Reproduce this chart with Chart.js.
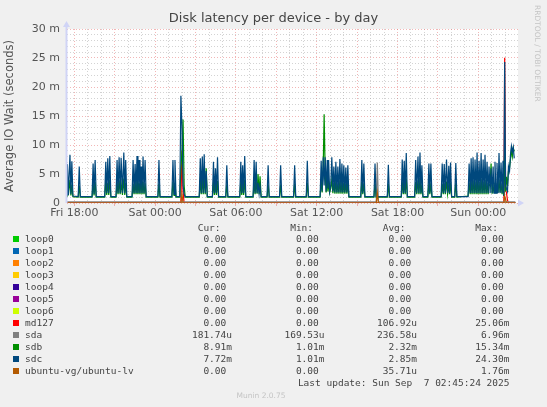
<!DOCTYPE html>
<html>
<head>
<meta charset="utf-8">
<script src="https://cdn.jsdelivr.net/npm/chart.js@4.4.1/dist/chart.umd.min.js"></script>
<style>
    body { margin: 0; background: #f0f0f0; }
    #wrap { position: relative; width: 547px; height: 407px; overflow: hidden; }
    #chart { position: absolute; left: 0; top: 0; }
    .txt { position: absolute; white-space: pre; }
    #title { left: 0; width: 547px; top: 10px; text-align: center; font: 13px "DejaVu Sans"; color: #444; }
    #mark { left: 533px; top: 5px; writing-mode: vertical-rl; font: 7.5px "DejaVu Sans"; color: #c4c4c4; }
    #munin { left: 0; width: 522px; top: 391px; text-align: center; font: 7.5px "DejaVu Sans"; color: #c4c4c4; }
    .leg { position: absolute; font: 9.5px "DejaVu Sans Mono"; color: #444; line-height: 12px; white-space: pre; }
    .sw { position: absolute; width: 6px; height: 6px; }
</style>
</head>
<body>
<div id="wrap">
    <canvas id="chart" width="547" height="407"></canvas>
    <div id="title" class="txt">Disk latency per device - by day</div>
    <div id="mark" class="txt">RRDTOOL / TOBI OETIKER</div>
    <div id="legend"></div>
    <div id="munin" class="txt">Munin 2.0.75</div>
</div>
<script>
// hours after Fri 18:00, values in milliseconds
const sampleHours = [
    -0.55, -0.52, -0.45, -0.33, -0.26, -0.19, -0.11,
    0.28, 0.36, 0.44,
    1.31, 1.39, 1.46, 1.54, 1.62,
    2.25, 2.33, 2.40, 2.48, 2.55, 2.63, 2.71,
    3.09, 3.17, 3.24, 3.32, 3.40, 3.47, 3.57, 3.67, 3.74, 3.81, 3.89,
    4.28, 4.36, 4.43, 4.51, 4.58, 4.65, 4.72, 4.80, 4.87, 4.95, 5.02, 5.10, 5.17, 5.25, 5.33,
    6.20, 6.28, 6.36,
    7.24, 7.32, 7.40, 7.47, 7.55,
    7.83, 7.91, 7.99, 8.07, 8.15, 8.23,
    9.27, 9.35, 9.42, 9.50, 9.57, 9.64, 9.72, 9.79, 9.87,
    10.25, 10.33, 10.40, 10.48, 10.55, 10.63, 10.71,
    11.24, 11.32, 11.40,
    12.28, 12.36, 12.43, 12.50, 12.57, 12.65, 12.73,
    13.27, 13.35, 13.42, 13.50, 13.57, 13.64, 13.72, 13.79, 13.87,
    14.31, 14.39, 14.47,
    15.24, 15.32, 15.40,
    16.28, 16.36, 16.44,
    17.22, 17.30, 17.38,
    18.25, 18.33, 18.40, 18.48, 18.55, 18.63, 18.70, 18.78, 18.83, 18.88, 18.96, 19.04, 19.12, 19.20, 19.27, 19.35, 19.42, 19.50, 19.57, 19.65, 19.72, 19.80, 19.87, 19.94, 20.01, 20.09, 20.16, 20.24, 20.31, 20.39,
    21.27, 21.35, 21.42, 21.50, 21.58,
    22.25, 22.33, 22.41,
    23.24, 23.32, 23.40,
    24.28, 24.35, 24.43, 24.50, 24.57, 24.65, 24.73,
    25.27, 25.35, 25.43, 25.52, 25.59, 25.67, 25.74, 25.81, 25.89,
    26.25, 26.33, 26.40, 26.48, 26.56,
    27.24, 27.32, 27.40, 27.47, 27.55, 27.64, 27.72, 27.81, 27.87, 27.94, 28.02,
    28.25, 28.33, 28.41,
    29.24, 29.32, 29.40, 29.47, 29.54, 29.61, 29.69, 29.76, 29.84, 29.91, 29.98, 30.06, 30.13, 30.21, 30.28, 30.36, 30.43, 30.50, 30.58, 30.65, 30.73, 30.80, 30.88, 30.95, 31.03, 31.10, 31.17, 31.24, 31.32, 31.39, 31.47, 31.54, 31.62, 31.69, 31.77, 31.84, 31.90,
    31.96, 32.03, 32.09, 32.17, 32.24, 32.32, 32.39, 32.46, 32.53, 32.60, 32.67
];
const sdcMs = [
    1.3, 6.7, 1.4, 8.3, 1.5, 7.2, 1.2,
    1.1, 6.3, 1.1,
    1.1, 6.8, 1.5, 7.4, 1.1,
    1.1, 7.1, 1.7, 7.7, 1.7, 8.1, 1.1,
    1.1, 7.4, 1.7, 7.9, 1.7, 7.8, 1.7, 8.7, 1.7, 7.4, 1.1,
    1.1, 7.4, 1.7, 6.7, 1.7, 8.1, 1.7, 7.4, 1.7, 6.3, 1.7, 8.0, 1.7, 7.4, 1.1,
    1.1, 7.4, 1.1,
    1.1, 7.4, 1.5, 7.4, 1.1,
    1.1, 18.5, 13.0, 3.0, 1.5, 1.1,
    1.1, 7.7, 1.7, 8.0, 1.7, 8.4, 1.7, 5.5, 1.1,
    1.1, 7.1, 1.7, 6.0, 1.7, 7.9, 1.1,
    1.1, 6.5, 1.1,
    1.1, 7.1, 1.7, 6.5, 1.7, 8.1, 1.1,
    1.1, 7.4, 1.7, 7.1, 1.7, 3.5, 1.6, 3.0, 1.1,
    1.1, 6.5, 1.1,
    1.1, 6.5, 1.1,
    1.1, 6.5, 1.1,
    1.1, 7.3, 1.1,
    1.1, 7.3, 2.0, 7.9, 3.0, 7.9, 2.0, 7.4, 2.5, 7.4, 2.0, 3.0, 7.9, 2.0, 6.3, 1.8, 7.1, 1.8, 6.3, 1.8, 7.6, 1.8, 6.8, 1.8, 6.5, 1.8, 6.1, 1.8, 6.5, 1.1,
    1.1, 7.4, 1.7, 6.8, 1.1,
    1.1, 6.8, 1.1,
    1.1, 6.6, 1.1,
    1.1, 7.5, 1.7, 7.3, 1.7, 8.6, 1.1,
    1.1, 7.4, 1.7, 8.0, 1.7, 8.7, 1.7, 6.5, 1.1,
    1.1, 6.8, 1.7, 6.8, 1.1,
    1.1, 6.8, 1.7, 6.7, 1.7, 7.5, 1.7, 6.4, 1.7, 7.0, 1.1,
    1.1, 6.9, 1.1,
    1.1, 6.8, 1.7, 7.7, 1.7, 7.9, 1.7, 7.5, 1.7, 8.7, 1.7, 7.3, 1.7, 8.6, 1.7, 7.5, 1.7, 8.3, 1.7, 7.1, 1.7, 6.3, 1.7, 6.0, 1.7, 6.3, 1.7, 7.1, 1.7, 6.9, 1.7, 8.6, 1.7, 7.0, 1.7, 7.3, 1.2,
    24.3, 3.0, 2.5, 2.0, 6.3, 5.5, 8.3, 9.8, 8.8, 9.6, 7.7
];
const sdbMs = [
    1.2, 3.5, 1.3, 4.0, 1.3, 3.2, 1.1,
    1.0, 3.0, 1.0,
    1.0, 3.4, 1.3, 3.6, 1.0,
    1.0, 3.8, 1.4, 3.5, 1.4, 4.0, 1.0,
    1.0, 3.6, 1.5, 3.9, 1.5, 3.4, 1.4, 4.2, 1.4, 3.5, 1.0,
    1.0, 3.3, 1.5, 3.6, 1.5, 3.9, 1.5, 3.4, 1.5, 3.8, 1.5, 3.6, 1.5, 3.4, 1.0,
    1.0, 3.3, 1.0,
    1.0, 3.6, 1.3, 3.5, 1.0,
    1.0, 6.0, 9.0, 14.4, 3.0, 1.0,
    1.0, 4.0, 1.5, 4.2, 1.5, 4.4, 1.5, 6.0, 1.0,
    1.0, 3.6, 1.4, 3.0, 1.4, 3.8, 1.0,
    1.0, 3.2, 1.0,
    1.0, 3.6, 1.4, 3.3, 1.4, 4.0, 1.0,
    1.0, 3.6, 1.5, 3.8, 1.6, 5.0, 1.5, 4.6, 1.0,
    1.0, 3.2, 1.0,
    1.0, 3.2, 1.0,
    1.0, 3.3, 1.0,
    1.0, 3.5, 1.0,
    1.0, 4.0, 1.8, 6.0, 15.3, 5.0, 1.8, 4.5, 2.0, 3.8, 1.8, 2.5, 4.0, 1.7, 3.5, 1.6, 3.8, 1.6, 3.4, 1.6, 3.9, 1.6, 3.6, 1.6, 3.5, 1.6, 3.4, 1.6, 3.6, 1.0,
    1.0, 3.6, 1.5, 3.4, 1.0,
    1.0, 3.3, 1.0,
    1.0, 3.3, 1.0,
    1.0, 3.7, 1.5, 3.6, 1.5, 4.2, 1.0,
    1.0, 3.6, 1.5, 3.9, 1.5, 4.3, 1.5, 3.2, 1.0,
    1.0, 3.4, 1.5, 3.4, 1.0,
    1.0, 3.3, 1.5, 3.4, 1.5, 3.7, 1.5, 3.2, 1.5, 3.5, 1.0,
    1.0, 3.4, 1.0,
    1.2, 3.5, 1.5, 3.8, 1.5, 3.9, 1.5, 3.7, 1.5, 4.2, 1.5, 3.6, 1.5, 4.1, 1.5, 3.7, 1.5, 4.0, 1.5, 3.5, 1.5, 3.2, 3.0, 6.8, 1.6, 3.0, 1.8, 3.5, 1.8, 3.4, 1.8, 4.0, 1.8, 3.4, 1.5, 3.6, 1.2,
    9.0, 2.0, 4.5, 3.0, 5.5, 6.0, 7.5, 9.2, 8.0, 9.5, 8.9
];
const md127Hours = [-0.55, 7.91, 7.99, 8.07, 8.15, 31.90, 31.96, 32.03, 32.09, 32.17, 32.24, 32.75];
const md127Ms = [0, 0, 9.0, 2.0, 0, 0, 25.06, 2.2, 1.8, 0.5, 0, 0];
const sdaHours = [-0.55, 22.42, 22.50, 22.58, 32.75];
const sdaMs = [0.2, 0.2, 6.96, 0.2, 0.18];
const lvHours = [-0.55, 7.91, 7.99, 8.07, 22.42, 22.50, 22.58, 31.90, 31.96, 32.03, 32.09, 32.75];
const lvMs = [0, 0, 1.5, 0, 0, 1.76, 0, 0, 1.2, 0.6, 0, 0];
const loopHours = [-0.55, 32.75];
const loopMs = [0, 0];

const labelHours = [0, 6, 12, 18, 24, 30];
const labelTexts = ['Fri 18:00', 'Sat 00:00', 'Sat 06:00', 'Sat 12:00', 'Sat 18:00', 'Sun 00:00'];

const names = ['loop0', 'loop1', 'loop2', 'loop3', 'loop4', 'loop5', 'loop6', 'md127', 'sda', 'sdb', 'sdc', 'ubuntu-vg/ubuntu-lv'];
const colors = ['#00CC00', '#0066B3', '#FF8000', '#FFCC00', '#330099', '#990099', '#CCFF00', '#FF0000', '#808080', '#008F00', '#00487D', '#B35A00'];
const curText = ['0.00 ', '0.00 ', '0.00 ', '0.00 ', '0.00 ', '0.00 ', '0.00 ', '0.00 ', '181.74u', '8.91m', '7.72m', '0.00 '];
const minText = ['0.00 ', '0.00 ', '0.00 ', '0.00 ', '0.00 ', '0.00 ', '0.00 ', '0.00 ', '169.53u', '1.01m', '1.01m', '0.00 '];
const avgText = ['0.00 ', '0.00 ', '0.00 ', '0.00 ', '0.00 ', '0.00 ', '0.00 ', '106.92u', '236.58u', '2.32m', '2.85m', '35.71u'];
const maxText = ['0.00 ', '0.00 ', '0.00 ', '0.00 ', '0.00 ', '0.00 ', '0.00 ', '25.06m', '6.96m', '15.34m', '24.30m', '1.76m'];

const seriesHours = [loopHours, loopHours, loopHours, loopHours, loopHours, loopHours, loopHours, md127Hours, sdaHours, sampleHours, sampleHours, lvHours];
const seriesMs = [loopMs, loopMs, loopMs, loopMs, loopMs, loopMs, loopMs, md127Ms, sdaMs, sdbMs, sdcMs, lvMs];

const PLOT = { left: 67, right: 518, top: 29, bottom: 203 };
const majorGrid = 'rgba(230, 110, 110, 0.5)';
const minorGrid = 'rgba(150, 150, 150, 0.42)';
const axisColor = '#d0d4f6';

const plotBackground = {
    id: 'plotBackground',
    beforeDraw(chart) {
        const { ctx, chartArea: a } = chart;
        ctx.save();
        ctx.fillStyle = '#ffffff';
        ctx.fillRect(a.left, a.top, a.right - a.left, a.bottom - a.top);
        ctx.restore();
    },
    afterDraw(chart) {
        // solid axis lines with small arrow heads, as rrdtool draws them
        const { ctx, chartArea: a } = chart;
        ctx.save();
        ctx.fillStyle = axisColor;
        ctx.strokeStyle = axisColor;
        ctx.lineWidth = 2;
        ctx.beginPath();
        ctx.moveTo(a.left - 0.5, a.bottom);
        ctx.lineTo(a.left - 0.5, a.top - 4);
        ctx.stroke();
        ctx.beginPath();
        ctx.moveTo(a.left - 4, a.top - 2);
        ctx.lineTo(a.left + 3, a.top - 2);
        ctx.lineTo(a.left - 0.5, a.top - 8);
        ctx.closePath();
        ctx.fill();
        ctx.beginPath();
        ctx.moveTo(a.right, a.bottom - 3.5);
        ctx.lineTo(a.right, a.bottom + 3.5);
        ctx.lineTo(a.right + 6, a.bottom);
        ctx.closePath();
        ctx.fill();
        ctx.restore();
    }
};

const datasets = names.map((name, i) => ({
    label: name,
    data: seriesMs[i].map((v, k) => ({ x: seriesHours[i][k], y: v })),
    borderColor: colors[i],
    backgroundColor: colors[i],
    borderWidth: 1.2,
    pointRadius: 0,
    tension: 0,
    fill: false,
    order: names.length - i
}));

const gridHours = [];
for (let h = 0; h <= 32; h++) gridHours.push(h);
const gridMs = [];
for (let v = 0; v <= 30; v++) gridMs.push(v);

Chart.defaults.font.family = 'DejaVu Sans';

new Chart(document.getElementById('chart'), {
    type: 'line',
    data: { datasets },
    plugins: [plotBackground],
    options: {
        responsive: false,
        animation: false,
        events: [],
        layout: { padding: { left: 0, right: 547 - PLOT.right, top: PLOT.top, bottom: 0 } },
        plugins: { legend: { display: false }, tooltip: { enabled: false } },
        scales: {
            x: {
                type: 'linear',
                min: -0.55,
                max: 32.95,
                afterBuildTicks: (scale) => { scale.ticks = gridHours.map(v => ({ value: v })); },
                afterFit: (scale) => { scale.height = 407 - PLOT.bottom; },
                ticks: {
                    autoSkip: false,
                    maxRotation: 0,
                    padding: 1,
                    color: '#555',
                    font: { size: 11 },
                    callback: (v) => {
                        const i = labelHours.indexOf(v);
                        return i >= 0 ? labelTexts[i] : '';
                    }
                },
                grid: {
                    color: (c) => (c.tick && c.tick.value % 3 === 0 ? majorGrid : minorGrid),
                    tickColor: (c) => (c.tick && c.tick.value % 3 === 0 ? majorGrid : 'rgba(0,0,0,0)'),
                    tickLength: 3,
                    lineWidth: 1
                },
                border: { display: false, dash: [1, 2] }
            },
            y: {
                type: 'linear',
                min: 0,
                max: 30,
                afterBuildTicks: (scale) => { scale.ticks = gridMs.map(v => ({ value: v })); },
                afterFit: (scale) => { scale.width = PLOT.left; },
                ticks: {
                    autoSkip: false,
                    padding: 7,
                    color: '#555',
                    font: { size: 11 },
                    callback: (v) => (v % 5 === 0 ? (v === 0 ? '0' : v + ' m') : '')
                },
                title: {
                    display: true,
                    text: 'Average IO Wait (seconds)',
                    color: '#555',
                    font: { size: 11.5 },
                    padding: { top: 3, bottom: 0 }
                },
                grid: {
                    color: (c) => (c.tick && c.tick.value % 5 === 0 ? majorGrid : minorGrid),
                    drawTicks: false,
                    lineWidth: 1
                },
                border: { display: false, dash: [1, 2] }
            }
        }
    }
});

// legend table under the graph
const legendEl = document.getElementById('legend');
const addText = (text, x, y, align) => {
    const el = document.createElement('div');
    el.className = 'leg';
    el.textContent = text;
    el.style.top = (y - 6) + 'px';
    if (align === 'right') {
        el.style.right = (547 - x) + 'px';
    } else {
        el.style.left = x + 'px';
    }
    legendEl.appendChild(el);
};
const colRight = [232, 324.5, 417, 509.5];
['Cur:', 'Min:', 'Avg:', 'Max:'].forEach((h, i) => addText(h + '  ', colRight[i], 228, 'right'));
names.forEach((name, i) => {
    const y = 239 + i * 12;
    const sw = document.createElement('div');
    sw.className = 'sw';
    sw.style.left = '13px';
    sw.style.top = (y - 3) + 'px';
    sw.style.background = colors[i];
    legendEl.appendChild(sw);
    addText(name, 25, y, 'left');
    addText(curText[i], colRight[0], y, 'right');
    addText(minText[i], colRight[1], y, 'right');
    addText(avgText[i], colRight[2], y, 'right');
    addText(maxText[i], colRight[3], y, 'right');
});
addText('Last update: Sun Sep  7 02:45:24 2025', colRight[3], 383, 'right');
</script>
</body>
</html>
